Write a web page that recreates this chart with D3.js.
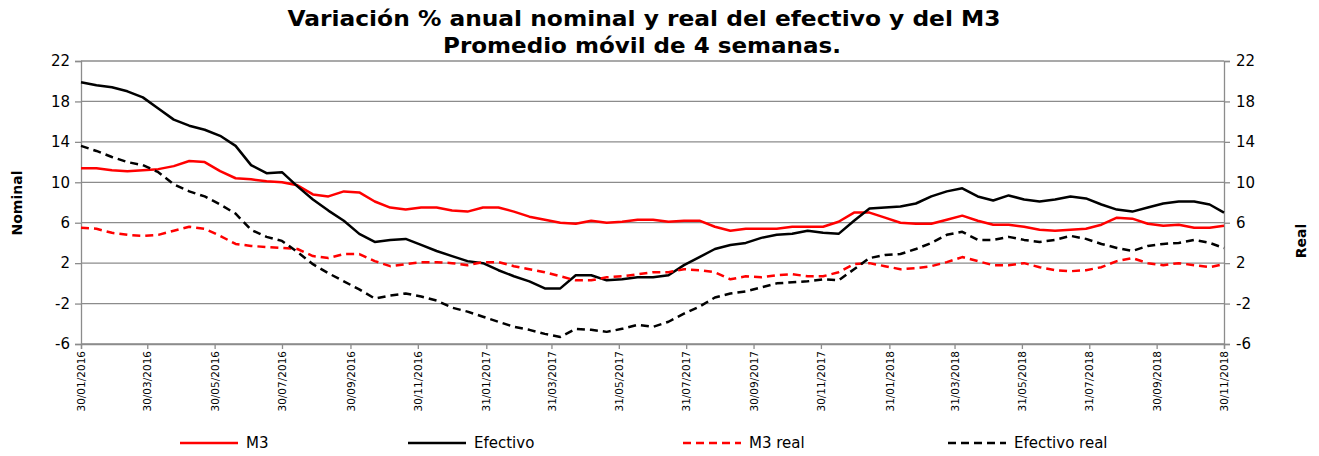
<!DOCTYPE html>
<html>
<head>
<meta charset="utf-8">
<script src="https://cdn.jsdelivr.net/npm/d3@7/dist/d3.min.js"></script>
<style>
  body { margin: 0; background: #fff; }
  svg { display: block; font-family: "DejaVu Sans", sans-serif; }
</style>
</head>
<body>
<svg width="1319" height="456"></svg>
<script>
// fortnightly points, last one is 30/11/2018
var startDate = "30/01/2016";
var endDate = "30/11/2018";
var stepDays = 14;

var tickLabels = ["30/01/2016", "30/03/2016", "30/05/2016", "30/07/2016", "30/09/2016", "30/11/2016",
  "31/01/2017", "31/03/2017", "31/05/2017", "31/07/2017", "30/09/2017", "30/11/2017",
  "31/01/2018", "31/03/2018", "31/05/2018", "31/07/2018", "30/09/2018", "30/11/2018"];

var yTicks = [-6, -2, 2, 6, 10, 14, 18, 22];

var m3 = [11.4, 11.4, 11.2, 11.1, 11.2, 11.3, 11.6, 12.1, 12.0, 11.1, 10.4, 10.3, 10.1, 10.0, 9.7,
  8.8, 8.6, 9.1, 9.0, 8.1, 7.5, 7.3, 7.5, 7.5, 7.2, 7.1, 7.5, 7.5, 7.1, 6.6,
  6.3, 6.0, 5.9, 6.2, 6.0, 6.1, 6.3, 6.3, 6.1, 6.2, 6.2, 5.6, 5.2, 5.4, 5.4,
  5.4, 5.6, 5.6, 5.6, 6.1, 7.0, 7.0, 6.5, 6.0, 5.9, 5.9, 6.3, 6.7, 6.2, 5.8,
  5.8, 5.6, 5.3, 5.2, 5.3, 5.4, 5.8, 6.5, 6.4, 5.9, 5.7, 5.8, 5.5, 5.5, 5.7];

var efectivo = [19.9, 19.6, 19.4, 19.0, 18.4, 17.3, 16.2, 15.6, 15.2, 14.6, 13.6, 11.7, 10.9, 11.0, 9.6,
  8.3, 7.2, 6.2, 4.9, 4.1, 4.3, 4.4, 3.8, 3.2, 2.7, 2.2, 2.0, 1.3, 0.7, 0.2,
  -0.5, -0.5, 0.8, 0.8, 0.3, 0.4, 0.6, 0.6, 0.8, 1.8, 2.6, 3.4, 3.8, 4.0, 4.5,
  4.8, 4.9, 5.2, 5.0, 4.9, 6.2, 7.4, 7.5, 7.6, 7.9, 8.6, 9.1, 9.4, 8.6, 8.2,
  8.7, 8.3, 8.1, 8.3, 8.6, 8.4, 7.8, 7.3, 7.1, 7.5, 7.9, 8.1, 8.1, 7.8, 7.0];

var m3Real = [5.5, 5.4, 5.0, 4.8, 4.7, 4.8, 5.2, 5.6, 5.4, 4.7, 3.9, 3.7, 3.6, 3.5, 3.4,
  2.7, 2.5, 2.9, 2.9, 2.2, 1.7, 1.9, 2.1, 2.1, 2.0, 1.8, 2.1, 2.1, 1.7, 1.4,
  1.1, 0.7, 0.3, 0.3, 0.6, 0.7, 0.9, 1.1, 1.1, 1.4, 1.3, 1.1, 0.4, 0.7, 0.6,
  0.8, 0.9, 0.7, 0.7, 1.1, 1.9, 2.0, 1.7, 1.4, 1.5, 1.7, 2.1, 2.6, 2.2, 1.8,
  1.8, 2.0, 1.6, 1.3, 1.2, 1.3, 1.6, 2.2, 2.5, 2.0, 1.8, 2.0, 1.8, 1.6, 1.9];

var efectivoReal = [13.6, 13.1, 12.5, 12.0, 11.7, 11.0, 9.8, 9.1, 8.6, 7.8, 6.9, 5.3, 4.6, 4.2, 3.1,
  1.9, 1.0, 0.2, -0.6, -1.5, -1.2, -1.0, -1.3, -1.7, -2.4, -2.8, -3.3, -3.8, -4.3, -4.6,
  -5.0, -5.3, -4.5, -4.6, -4.8, -4.5, -4.1, -4.3, -3.8, -3.0, -2.3, -1.4, -1.0, -0.8, -0.4,
  0.0, 0.1, 0.2, 0.4, 0.3, 1.4, 2.5, 2.8, 2.9, 3.4, 4.0, 4.8, 5.1, 4.3, 4.3,
  4.6, 4.3, 4.1, 4.3, 4.7, 4.4, 3.9, 3.5, 3.2, 3.7, 3.9, 4.0, 4.3, 4.0, 3.5];

var series = [
  {name: "M3", values: m3, color: "#ff0000", dash: null},
  {name: "Efectivo", values: efectivo, color: "#000000", dash: null},
  {name: "M3 real", values: m3Real, color: "#ff0000", dash: "8,5"},
  {name: "Efectivo real", values: efectivoReal, color: "#000000", dash: "8,5"}
];

var parse = d3.timeParse("%d/%m/%Y");
var dates = m3.map(function(d, i){
  if(i === m3.length - 1) return parse(endDate);
  return d3.timeDay.offset(parse(startDate), i * stepDays);
});

var svg = d3.select("svg"),
    plotLeft = 81, plotRight = 1224, plotTop = 61, plotBottom = 344,
    gridColor = "#8c8c8c";

var x = d3.scaleTime().domain([parse(startDate), parse(endDate)]).range([plotLeft, plotRight]);
var y = d3.scaleLinear().domain([-6, 22]).range([plotBottom, plotTop]);

// title
svg.append("text").attr("x", 644).attr("y", 26).attr("text-anchor", "middle")
  .attr("font-size", 21).attr("font-weight", "bold")
  .attr("textLength", 713).attr("lengthAdjust", "spacingAndGlyphs")
  .text("Variación % anual nominal y real del efectivo y del M3");
svg.append("text").attr("x", 642).attr("y", 53).attr("text-anchor", "middle")
  .attr("font-size", 21).attr("font-weight", "bold")
  .attr("textLength", 398).attr("lengthAdjust", "spacingAndGlyphs")
  .text("Promedio móvil de 4 semanas.");

// horizontal grid
svg.append("g").selectAll("line").data(yTicks).enter().append("line")
  .attr("x1", plotLeft).attr("x2", plotRight)
  .attr("y1", function(d){ return y(d); }).attr("y2", function(d){ return y(d); })
  .attr("stroke", gridColor).attr("stroke-width", 1.3);

// axes (plain hyphen for negatives, like the original)
var plain = function(d){ return String(d); };
var yLeft = svg.append("g").attr("transform", "translate(" + plotLeft + ",0)")
  .call(d3.axisLeft(y).tickValues(yTicks).tickFormat(plain).tickSize(6).tickPadding(5));
var yRight = svg.append("g").attr("transform", "translate(" + plotRight + ",0)")
  .call(d3.axisRight(y).tickValues(yTicks).tickFormat(plain).tickSize(6).tickPadding(6));
var xAxis = svg.append("g").attr("transform", "translate(0," + plotBottom + ")")
  .call(d3.axisBottom(x).tickValues(tickLabels.map(parse)).tickSize(5)
    .tickFormat(function(d, i){ return tickLabels[i]; }));

[yLeft, yRight, xAxis].forEach(function(a){
  a.select(".domain").attr("stroke", gridColor).attr("stroke-width", 1.3);
  a.selectAll(".tick line").attr("stroke", gridColor).attr("stroke-width", 1.3);
  a.selectAll("text").attr("fill", "#000").attr("font-family", "DejaVu Sans, sans-serif");
});
yLeft.selectAll("text").attr("font-size", 15);
yRight.selectAll("text").attr("font-size", 15);
xAxis.selectAll("text")
  .attr("font-size", 10.5)
  .attr("text-anchor", "end")
  .attr("transform", "rotate(-90)")
  .attr("x", -7).attr("y", 0).attr("dy", "0.35em");

// axis titles
svg.append("text").attr("transform", "translate(22,203) rotate(-90)")
  .attr("text-anchor", "middle").attr("font-size", 14).attr("font-weight", "bold").text("Nominal");
svg.append("text").attr("transform", "translate(1306,241) rotate(-90)")
  .attr("text-anchor", "middle").attr("font-size", 14).attr("font-weight", "bold").text("Real");

// lines
var line = d3.line()
  .x(function(d, i){ return x(dates[i]); })
  .y(function(d){ return y(d); });

svg.append("g").selectAll("path").data(series).enter().append("path")
  .attr("d", function(s){ return line(s.values); })
  .attr("fill", "none")
  .attr("stroke", function(s){ return s.color; })
  .attr("stroke-width", 2.5)
  .attr("stroke-linejoin", "round")
  .attr("stroke-dasharray", function(s){ return s.dash; });

// legend
var legendX = [180, 408, 683, 948];
var legend = svg.append("g").selectAll("g").data(series).enter().append("g")
  .attr("transform", function(s, i){ return "translate(" + legendX[i] + ",443)"; });
legend.append("line").attr("x1", 0).attr("x2", 58).attr("y1", 0).attr("y2", 0)
  .attr("stroke", function(s){ return s.color; }).attr("stroke-width", 2.5)
  .attr("stroke-dasharray", function(s){ return s.dash; });
legend.append("text").attr("x", 66).attr("y", 0).attr("dy", "0.35em")
  .attr("font-size", 15).text(function(s){ return s.name; });
</script>
</body>
</html>
